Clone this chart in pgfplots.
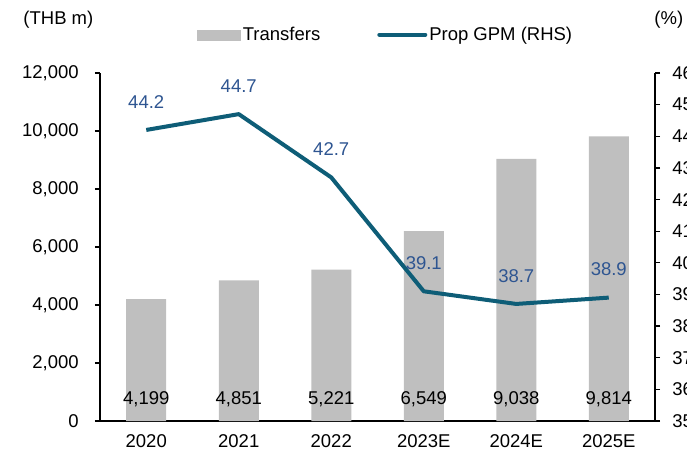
\documentclass[border=0pt]{standalone}
\usepackage{pgfplots}
\pgfplotsset{compat=1.18}
\usepackage{fontspec}
\setmainfont{Liberation Sans}
\definecolor{bargray}{HTML}{BFBFBF}
\definecolor{linecol}{HTML}{0E5D77}
\definecolor{lblcol}{HTML}{2E5591}
\begin{document}
\fontsize{18.5bp}{22bp}\selectfont
\begin{tikzpicture}
\begin{axis}[
  scale only axis, width=555bp, height=348bp,
  at={(0,0)}, anchor=south west,
  xmin=-0.5, xmax=5.5, ymin=0, ymax=12000,
  axis y line*=left, axis x line*=bottom,
  axis line style={line width=1.2pt, black},
  xtick={0,1,2,3,4,5}, xticklabels={2020,2021,2022,2023E,2024E,2025E},
  extra x ticks={-0.5,0.5,1.5,2.5,3.5,4.5,5.5}, extra x tick labels={},
  extra x tick style={major tick length=5bp, tick style={line width=1.2pt, black}},
  major x tick style={draw=none},
  ytick={0,2000,4000,6000,8000,10000,12000},
  /pgf/number format/1000 sep={,},
  xticklabel style={yshift=-2bp},
  yticklabel style={xshift=-10bp},
  tick align=outside, major tick length=5bp,
  y tick style={line width=1.2pt, black},
  tick label style={font=\fontsize{18.5bp}{22bp}\selectfont},
  /pgf/number format/assume math mode=true,
  scaled y ticks=false,
  clip=false,
]
\addplot[ybar, bar width=40bp, fill=bargray, draw=none] coordinates {
 (0,4199) (1,4851) (2,5221) (3,6549) (4,9038) (5,9814)};
\addplot[only marks, mark=none, point meta=explicit,
  nodes near coords={\pgfmathprintnumber[1000 sep={,}, assume math mode=true]{\pgfplotspointmeta}},
  nodes near coords style={anchor=center, yshift=22bp, text=black, font=\fontsize{18.5bp}{22bp}\selectfont}]
  coordinates {(0,0)[4199] (1,0)[4851] (2,0)[5221] (3,0)[6549] (4,0)[9038] (5,0)[9814]};
\node[anchor=center] at (axis description cs:-0.075,1.152) {(THB m)};
\node[anchor=center] at (axis description cs:1.025,1.152) {(\%)};
\end{axis}
\begin{axis}[
  scale only axis, width=555bp, height=348bp,
  at={(0,0)}, anchor=south west,
  xmin=-0.5, xmax=5.5, ymin=35, ymax=46,
  axis y line*=right, axis x line=none,
  axis line style={line width=1.2pt, black},
  ytick={35,36,...,46},
  tick align=outside, major tick length=5bp,
  y tick style={line width=1.2pt, black},
  yticklabel style={xshift=6bp},
  tick label style={font=\fontsize{18.5bp}{22bp}\selectfont},
  /pgf/number format/assume math mode=true,
  clip=false,
  legend columns=2,
  legend style={at={(0.515,1.11)}, anchor=center, draw=none, fill=none,
    font=\fontsize{18.5bp}{22bp}\selectfont,
    /tikz/every even column/.append style={column sep=55bp}},
]
\addlegendimage{legend image code/.code={\fill[bargray] (-4bp,-5bp) rectangle (39bp,5bp);}}
\addlegendentry{Transfers}
\addplot[linecol, line width=4bp, line join=round,
  nodes near coords={\pgfmathprintnumber[fixed, fixed zerofill, precision=1, assume math mode=true]{\pgfplotspointmeta}},
  nodes near coords style={anchor=center, yshift=28bp, text=lblcol, font=\fontsize{18.5bp}{22bp}\selectfont},
  legend image code/.code={\draw[linecol, line width=4bp, line cap=round] (0bp,0bp) -- (46bp,0bp);}]
  coordinates {(0,44.2) (1,44.7) (2,42.7) (3,39.1) (4,38.7) (5,38.9)};
\addlegendentry{Prop GPM (RHS)}
\end{axis}
\pgfresetboundingbox
\useasboundingbox (-100bp,-36bp) rectangle (587bp,421bp);
\end{tikzpicture}
\end{document}
